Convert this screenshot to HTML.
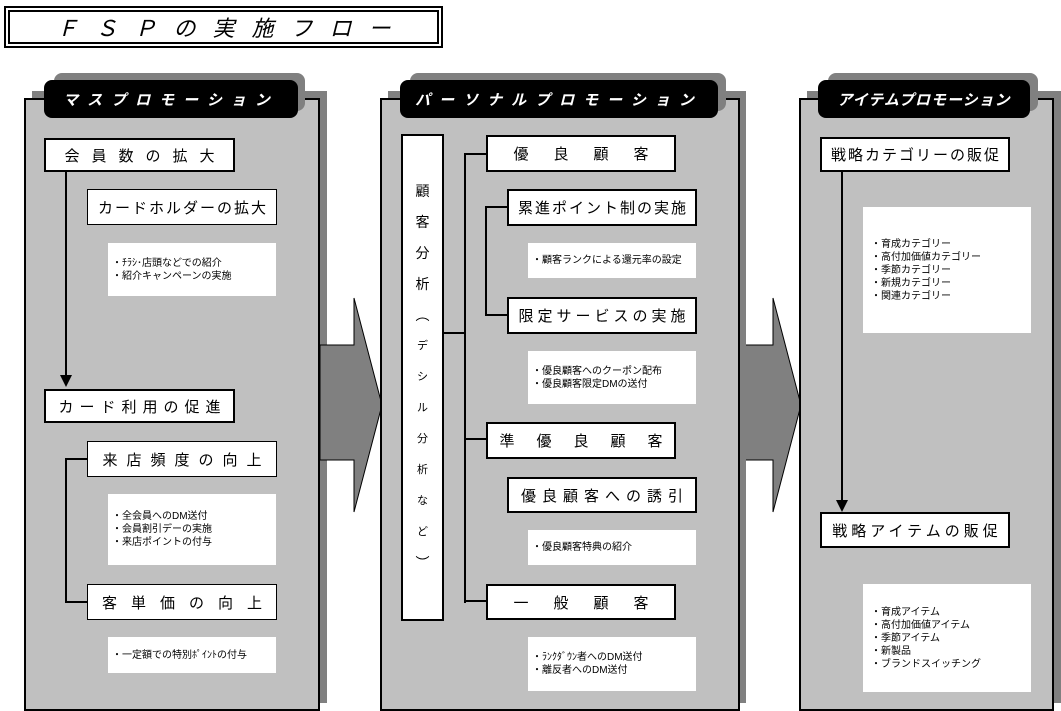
<!DOCTYPE html>
<html><head><meta charset="utf-8"><style>
body{margin:0;width:1061px;height:711px;background:#fff;position:relative;overflow:hidden;font-family:"Liberation Sans","Noto Sans CJK JP",sans-serif;}
div{position:absolute;box-sizing:border-box;}
.sh{background:#808080;}
.pn{background:#c0c0c0;border:2px solid #000;}
.hs{background:#808080;border-radius:8px;}
.hd{background:#000;color:#fff;border-radius:8px;font-style:italic;font-weight:bold;font-size:15px;display:flex;align-items:center;justify-content:center;letter-spacing:9px;}
.b{background:#fff;border:2px solid #000;display:flex;align-items:center;justify-content:center;font-size:15px;white-space:nowrap;}
.b1{border-width:1px;}
.n{background:#fff;font-size:10px;line-height:13px;padding-left:4px;display:flex;flex-direction:column;justify-content:center;white-space:nowrap;}
.l{background:#000;}
</style></head><body>
<div style="left:4px;top:6px;width:439px;height:42px;border:2px solid #000;"></div>
<div style="left:8px;top:10px;width:431px;height:34px;border:2px solid #000;display:flex;align-items:center;justify-content:center;font-size:22px;font-style:italic;letter-spacing:17px;padding-left:17px">ＦＳＰの実施フロー</div>

<!-- panel 1 -->
<div class="sh" style="left:32px;top:91px;width:295px;height:612px"></div>
<div class="pn" style="left:24px;top:98px;width:296px;height:613px"></div>
<div class="hs" style="left:54px;top:73px;width:251px;height:38px"></div>
<div class="hd" style="left:44px;top:80px;width:254px;height:38px">マスプロモーション</div>
<div class="b" style="left:44px;top:138px;width:191px;height:34px;letter-spacing:12px;padding-left:12px">会員数の拡大</div>
<div class="b b1" style="left:87px;top:189px;width:190px;height:36px;letter-spacing:2px;padding-left:2px">カードホルダーの拡大</div>
<div class="n" style="left:108px;top:243px;width:168px;height:53px"><span>・ﾁﾗｼ･店頭などでの紹介</span><span>・紹介キャンペーンの実施</span></div>
<div class="l" style="left:65px;top:171px;width:2px;height:207px"></div>
<div style="left:60px;top:375px;width:0;height:0;border-left:6px solid transparent;border-right:6px solid transparent;border-top:12px solid #000"></div>
<div class="b" style="left:44px;top:389px;width:191px;height:34px;letter-spacing:6px;padding-left:6px">カード利用の促進</div>
<div class="l" style="left:65px;top:458px;width:2px;height:145px"></div>
<div class="l" style="left:65px;top:458px;width:23px;height:2px"></div>
<div class="l" style="left:65px;top:601px;width:23px;height:2px"></div>
<div class="b b1" style="left:87px;top:441px;width:190px;height:36px;letter-spacing:9px;padding-left:9px">来店頻度の向上</div>
<div class="n" style="left:108px;top:494px;width:168px;height:71px"><span>・全会員へのDM送付</span><span>・会員割引デーの実施</span><span>・来店ポイントの付与</span></div>
<div class="b b1" style="left:87px;top:584px;width:190px;height:36px;letter-spacing:14px;padding-left:14px">客単価の向上</div>
<div class="n" style="left:108px;top:637px;width:168px;height:36px"><span>・一定額での特別ﾎﾟｲﾝﾄの付与</span></div>

<svg style="position:absolute;left:0;top:0" width="1061" height="711">
<polygon points="320,345 354,345 354,298 382,405 354,512 354,460 320,460" fill="#808080" stroke="#000" stroke-width="1"/>
<polygon points="740,345 773,345 773,298 801,405 773,512 773,460 740,460" fill="#808080" stroke="#000" stroke-width="1"/>
</svg>

<!-- panel 2 -->
<div class="sh" style="left:388px;top:91px;width:358px;height:612px"></div>
<div class="pn" style="left:380px;top:98px;width:360px;height:613px"></div>
<div class="hs" style="left:410px;top:73px;width:316px;height:38px"></div>
<div class="hd" style="left:400px;top:80px;width:318px;height:38px">パーソナルプロモーション</div>
<div class="b" style="left:401px;top:134px;width:43px;height:487px;flex-direction:column;font-size:14px;line-height:31px;"><span>顧</span><span>客</span><span>分</span><span>析</span><span>︵</span><span style="font-size:11px">デ</span><span style="font-size:11px">シ</span><span style="font-size:11px">ル</span><span style="font-size:11px">分</span><span style="font-size:11px">析</span><span style="font-size:11px">な</span><span style="font-size:11px">ど</span><span>︶</span></div>
<div class="l" style="left:443px;top:332px;width:23px;height:2px"></div>
<div class="l" style="left:464px;top:153px;width:2px;height:450px"></div>
<div class="l" style="left:464px;top:153px;width:23px;height:2px"></div>
<div class="l" style="left:464px;top:438px;width:23px;height:2px"></div>
<div class="l" style="left:464px;top:600px;width:23px;height:2px"></div>
<div class="b" style="left:486px;top:135px;width:190px;height:37px;letter-spacing:25px;padding-left:25px">優良顧客</div>
<div class="l" style="left:485px;top:206px;width:2px;height:110px"></div>
<div class="l" style="left:485px;top:206px;width:23px;height:2px"></div>
<div class="l" style="left:485px;top:314px;width:23px;height:2px"></div>
<div class="b" style="left:507px;top:189px;width:190px;height:37px;letter-spacing:2px;padding-left:2px">累進ポイント制の実施</div>
<div class="n" style="left:528px;top:243px;width:168px;height:35px"><span>・顧客ランクによる還元率の設定</span></div>
<div class="b" style="left:507px;top:297px;width:190px;height:37px;letter-spacing:4px;padding-left:4px">限定サービスの実施</div>
<div class="n" style="left:528px;top:351px;width:168px;height:53px"><span>・優良顧客へのクーポン配布</span><span>・優良顧客限定DMの送付</span></div>
<div class="b" style="left:486px;top:422px;width:190px;height:37px;letter-spacing:22px;padding-left:22px">準優良顧客</div>
<div class="b" style="left:507px;top:477px;width:190px;height:36px;letter-spacing:6px;padding-left:6px">優良顧客への誘引</div>
<div class="n" style="left:528px;top:530px;width:168px;height:35px"><span>・優良顧客特典の紹介</span></div>
<div class="b" style="left:486px;top:584px;width:190px;height:36px;letter-spacing:25px;padding-left:25px">一般顧客</div>
<div class="n" style="left:528px;top:637px;width:168px;height:54px"><span>・ﾗﾝｸﾀﾞｳﾝ者へのDM送付</span><span>・離反者へのDM送付</span></div>

<!-- panel 3 -->
<div class="sh" style="left:807px;top:91px;width:254px;height:612px"></div>
<div class="pn" style="left:799px;top:98px;width:255px;height:613px"></div>
<div class="hs" style="left:828px;top:73px;width:210px;height:38px"></div>
<div class="hd" style="left:818px;top:80px;width:212px;height:38px;letter-spacing:1px">アイテムプロモーション</div>
<div class="b" style="left:820px;top:137px;width:190px;height:35px;letter-spacing:2px;padding-left:2px">戦略カテゴリーの販促</div>
<div class="l" style="left:841px;top:171px;width:2px;height:330px"></div>
<div style="left:836px;top:500px;width:0;height:0;border-left:6px solid transparent;border-right:6px solid transparent;border-top:12px solid #000"></div>
<div class="n" style="left:863px;top:207px;width:168px;height:126px;padding-left:8px"><span>・育成カテゴリー</span><span>・高付加価値カテゴリー</span><span>・季節カテゴリー</span><span>・新規カテゴリー</span><span>・関連カテゴリー</span></div>
<div class="b" style="left:820px;top:512px;width:190px;height:36px;letter-spacing:4px;padding-left:4px">戦略アイテムの販促</div>
<div class="n" style="left:863px;top:584px;width:168px;height:108px;padding-left:8px"><span>・育成アイテム</span><span>・高付加価値アイテム</span><span>・季節アイテム</span><span>・新製品</span><span>・ブランドスイッチング</span></div>
</body></html>
